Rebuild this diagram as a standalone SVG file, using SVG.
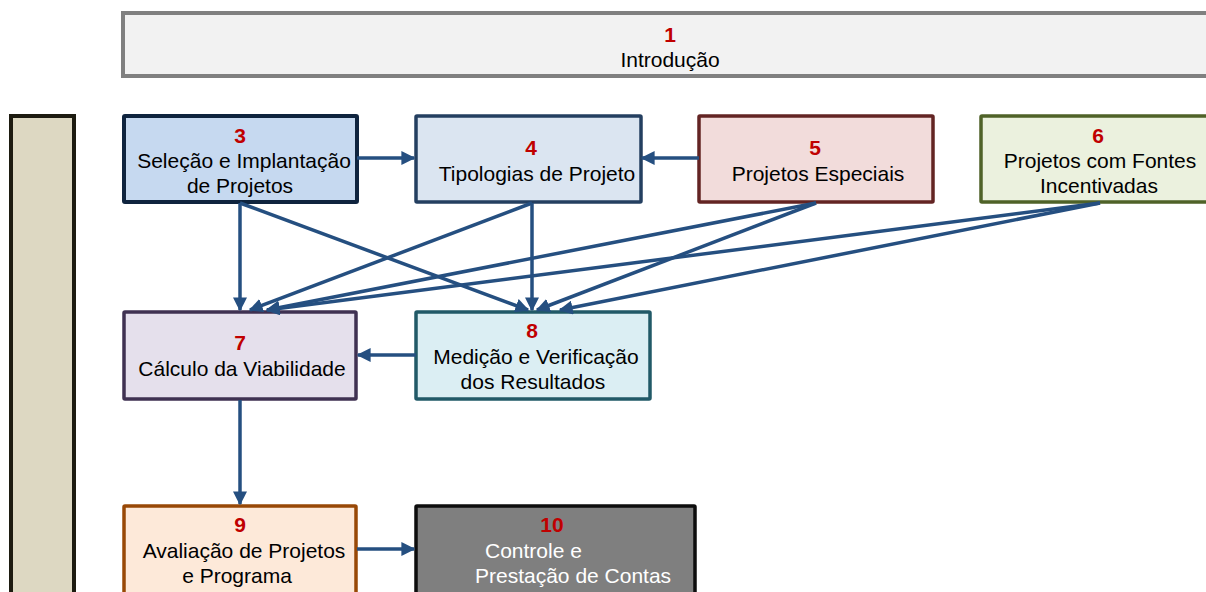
<svg xmlns="http://www.w3.org/2000/svg" width="1206" height="592" viewBox="0 0 1206 592">
<defs>
<marker id="ah" viewBox="0 0 10 10" refX="9" refY="5" markerWidth="4" markerHeight="4" orient="auto" markerUnits="strokeWidth">
<path d="M0,0 L10,5 L0,10 z" fill="#254f80"/>
</marker>
<style>
.t{font-family:"Liberation Sans",Arial,sans-serif;font-size:21px;fill:#000;text-anchor:middle}
.n{font-family:"Liberation Sans",Arial,sans-serif;font-size:21px;font-weight:bold;fill:#c00000;text-anchor:middle}
.w{font-family:"Liberation Sans",Arial,sans-serif;font-size:21px;fill:#fff}
.c{fill:none;stroke:#254f80;stroke-width:3.5;marker-end:url(#ah)}
</style>
</defs>
<rect width="1206" height="592" fill="#fff"/>
<g id="n1"><rect x="123" y="13" width="1100" height="63" fill="#f2f2f2" stroke="#808080" stroke-width="4"/>
<text class="n" x="670" y="42">1</text><text class="t" x="670" y="67">Introdução</text></g>
<g id="n2"><rect x="11" y="116" width="63" height="490" fill="#ddd8c2" stroke="#1d1b10" stroke-width="4"/></g>
<g id="n3"><rect x="124" y="116" width="233" height="86" fill="#c6d9f0" stroke="#0f243e" stroke-width="4" rx="1"/>
<text class="n" x="240" y="143">3</text><text class="t" x="244" y="168">Seleção e Implantação</text><text class="t" x="240" y="193">de Projetos</text></g>
<g id="n4"><rect x="416" y="116" width="225" height="86" fill="#dbe5f1" stroke="#243f60" stroke-width="3.5" rx="1"/>
<text class="n" x="531" y="155">4</text><text class="t" x="537" y="181">Tipologias de Projeto</text></g>
<g id="n5"><rect x="699" y="116" width="234" height="86" fill="#f2dcdb" stroke="#632423" stroke-width="3.5" rx="1"/>
<text class="n" x="815" y="155">5</text><text class="t" x="818" y="181">Projetos Especiais</text></g>
<g id="n6"><rect x="981" y="116" width="240" height="86" fill="#ebf1de" stroke="#4f6228" stroke-width="3.5" rx="1"/>
<text class="n" x="1098" y="143">6</text><text class="t" x="1100" y="168">Projetos com Fontes</text><text class="t" x="1099" y="193">Incentivadas</text></g>
<g id="n7"><rect x="124" y="312" width="232" height="87" fill="#e5e0ec" stroke="#3f3151" stroke-width="3.5" rx="1"/>
<text class="n" x="240" y="350">7</text><text class="t" x="242" y="376">Cálculo da Viabilidade</text></g>
<g id="n8"><rect x="416" y="312" width="234" height="87" fill="#dbeef3" stroke="#215967" stroke-width="3.5" rx="1"/>
<text class="n" x="532" y="338">8</text><text class="t" x="536" y="364">Medição e Verificação</text><text class="t" x="533" y="389">dos Resultados</text></g>
<g id="n9"><rect x="124" y="506" width="232" height="100" fill="#fde9d9" stroke="#984806" stroke-width="3.5" rx="1"/>
<text class="n" x="240" y="532">9</text><text class="t" x="244" y="558">Avaliação de Projetos</text><text class="t" x="237" y="583">e Programa</text></g>
<g id="n10"><rect x="416" y="506" width="279" height="100" fill="#7f7f7f" stroke="#0d0d0d" stroke-width="3.5" rx="1"/>
<text class="n" x="552" y="532">10</text><text class="w" x="485" y="558">Controle e</text><text class="w" x="475" y="583">Prestação de Contas</text></g>
<g id="connectors">
<line class="c" x1="357" y1="158" x2="414" y2="158"/>
<line class="c" x1="699" y1="158" x2="642" y2="158"/>
<line class="c" x1="240" y1="203" x2="240" y2="310"/>
<line class="c" x1="240" y1="203" x2="528" y2="310"/>
<line class="c" x1="532" y1="203" x2="250" y2="310"/>
<line class="c" x1="532" y1="203" x2="532" y2="310"/>
<line class="c" x1="816" y1="203" x2="267" y2="310"/>
<line class="c" x1="816" y1="203" x2="537" y2="310"/>
<line class="c" x1="1100" y1="203" x2="267" y2="310"/>
<line class="c" x1="1100" y1="203" x2="560" y2="310"/>
<line class="c" x1="416" y1="355" x2="358" y2="355"/>
<line class="c" x1="240" y1="400" x2="240" y2="504"/>
<line class="c" x1="357" y1="549" x2="414" y2="549"/>
</g>
</svg>
